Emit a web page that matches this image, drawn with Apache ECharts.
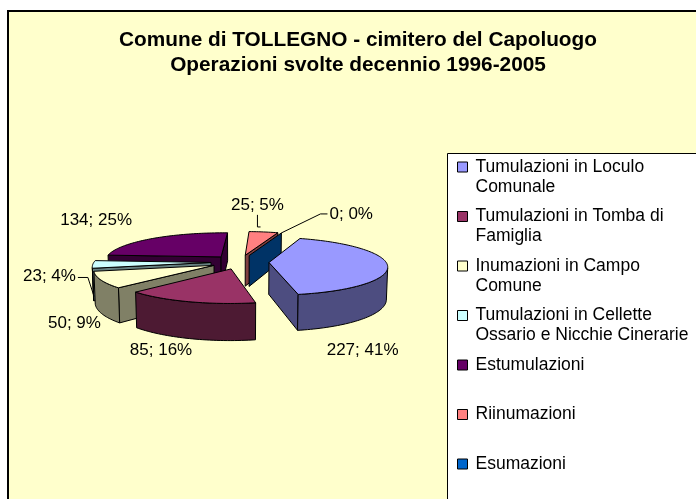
<!DOCTYPE html>
<html>
<head>
    <meta charset="UTF-8">
    <title>Comune di TOLLEGNO - cimitero del Capoluogo</title>
    <script src="https://cdn.jsdelivr.net/npm/echarts@6/dist/echarts.min.js"></script>
</head>
<body style="margin: 0; padding: 0;">
    <div id="container" style="width: 696px; height: 499px;"></div>
    <script>
        // dati
        var categories = ['Tumulazioni in Loculo Comunale', 'Tumulazioni in Tomba di Famiglia',
            'Inumazioni in Campo Comune', 'Tumulazioni in Cellette Ossario e Nicchie Cinerarie',
            'Estumulazioni', 'Riinumazioni', 'Esumazioni'];
        var legendText = ['Tumulazioni in Loculo\nComunale', 'Tumulazioni in Tomba di\nFamiglia',
            'Inumazioni in Campo\nComune', 'Tumulazioni in Cellette\nOssario e Nicchie Cinerarie',
            'Estumulazioni\n ', 'Riinumazioni\n ', 'Esumazioni\n '];
        var values = [227, 85, 50, 23, 134, 25, 0];
        var percents = [41, 16, 9, 4, 25, 5, 0];
        var colors = ['#9999FF', '#993366', '#FFFFCC', '#CCFFFF', '#660066', '#FF8080', '#0066CC'];

        // impostazioni della torta 3D (stile)
        var cx = 240, cy = 262, R = 117, E = 29, T = 33;
        var elev = 14 * Math.PI / 180, camD = 900, rot = 19;
        var labelNudge = [[-24, 70], [-28, 30], [-27, 26], [-44, -4], [-57, -33], [-6, -41], [70, -33]];
        var leaderTypes = [null, null, null, 'right', null, 'below', 'left'];

        var sinE = Math.sin(elev), cosE = Math.cos(elev);
        var cam = [0, camD * sinE, camD * cosE];
        var total = values.reduce(function (a, b) { return a + b; }, 0);
        var measureCtx = document.createElement('canvas').getContext('2d');
        measureCtx.font = '17px "Liberation Sans"';

        function rad(d) { return d * Math.PI / 180; }

        function proj(p) {
            var pv = p[1] * sinE + p[2] * cosE;
            var yc = p[1] * cosE - p[2] * sinE;
            var s = camD / (camD - pv);
            return [cx + p[0] * s, cy - yc * s];
        }

        function dist(p) {
            var dx = cam[0] - p[0], dy = cam[1] - p[1], dz = cam[2] - p[2];
            return Math.sqrt(dx * dx + dy * dy + dz * dz);
        }

        function faceVisible(p, n) {
            return (cam[0] - p[0]) * n[0] + (cam[1] - p[1]) * n[1] + (cam[2] - p[2]) * n[2] > 0;
        }

        function darken(hex) {
            var c = parseInt(hex.slice(1), 16);
            var r = (c >> 16) & 255, g = (c >> 8) & 255, b = c & 255;
            return 'rgb(' + Math.round(r / 2) + ',' + Math.round(g / 2) + ',' + Math.round(b / 2) + ')';
        }

        function sliceGeom(i) {
            var cum = 0;
            for (var k = 0; k < i; k++) cum += values[k];
            var a0 = rot + 360 * cum / total;
            var a1 = a0 + 360 * values[i] / total;
            var m = (a0 + a1) / 2;
            var ox = E * Math.sin(rad(m)), oz = -E * Math.cos(rad(m));
            return {
                a0: a0, a1: a1, m: m,
                pt: function (a, r, y) {
                    return [ox + r * Math.sin(rad(a)), y, oz - r * Math.cos(rad(a))];
                }
            };
        }

        function renderSlice(i) {
            return function (params, api) {
                var g = sliceGeom(i);
                var children = [];
                var dark = darken(colors[i]);
                var z = Math.round(3000 - dist(g.pt(g.m, R * 0.6, -T / 2)));
                var apexTop = g.pt(0, 0, 0), apexBot = g.pt(0, 0, -T);
                function face(points, fill) {
                    children.push({
                        type: 'polygon', z2: z,
                        shape: { points: points.map(proj) },
                        style: { fill: fill, stroke: '#000', lineWidth: 1, lineJoin: 'round' }
                    });
                }
                // pareti radiali
                [[g.a0, -1], [g.a1, 1]].forEach(function (w) {
                    var a = w[0], s = w[1];
                    var n = [s * Math.cos(rad(a)), 0, s * Math.sin(rad(a))];
                    if (faceVisible(g.pt(a, R / 2, -T / 2), n)) {
                        face([apexTop, g.pt(a, R, 0), g.pt(a, R, -T), apexBot], dark);
                    }
                });
                if (g.a1 > g.a0) {
                    // parete esterna
                    var steps = Math.max(2, Math.ceil((g.a1 - g.a0) / 1.5));
                    var run = [];
                    var flush = function () {
                        if (run.length > 1) {
                            var pts = run.map(function (a) { return g.pt(a, R, 0); });
                            pts = pts.concat(run.slice().reverse().map(function (a) { return g.pt(a, R, -T); }));
                            face(pts, dark);
                        }
                        run = [];
                    };
                    var arc = [];
                    for (var k = 0; k <= steps; k++) {
                        var a = g.a0 + (g.a1 - g.a0) * k / steps;
                        arc.push(g.pt(a, R, 0));
                        var n = [Math.sin(rad(a)), 0, -Math.cos(rad(a))];
                        if (faceVisible(g.pt(a, R, -T / 2), n)) run.push(a); else flush();
                    }
                    flush();
                    // faccia superiore
                    face([apexTop].concat(arc), colors[i]);
                }
                // etichetta
                var text = values[i] + '; ' + percents[i] + '%';
                var anchor = proj(g.pt(g.m, R, -T / 2));
                var lx = anchor[0] + labelNudge[i][0], ly = anchor[1] + labelNudge[i][1];
                var hw = measureCtx.measureText(text).width / 2;
                children.push({
                    type: 'text', z2: 5000, x: lx, y: ly,
                    style: {
                        text: text, fill: '#000', fontSize: 17, fontFamily: 'Liberation Sans',
                        align: 'center', verticalAlign: 'middle'
                    }
                });
                var lead = leaderTypes[i], pts = null;
                if (lead === 'right') {
                    var t = proj(g.pt(g.m, R, -T));
                    pts = [[lx + hw + 2, ly + 1], [lx + hw + 12, ly + 1], t];
                } else if (lead === 'left') {
                    var t2 = proj(g.pt(g.m, R, 0));
                    pts = [[lx - hw - 2, ly], [lx - hw - 9, ly], t2];
                } else if (lead === 'below') {
                    var t3 = proj(g.pt(g.m, R, 0));
                    pts = [[lx, ly + 10], [lx, t3[1] - 5], [t3[0] - 3, t3[1] - 5]];
                }
                if (pts) {
                    children.push({
                        type: 'polyline', z2: 5000, shape: { points: pts },
                        style: { stroke: '#000', lineWidth: 1, fill: null }
                    });
                }
                return { type: 'group', children: children };
            };
        }

        var chart = echarts.init(document.getElementById('container'), null, { renderer: 'canvas' });

        var series = categories.map(function (name, i) {
            return {
                type: 'custom',
                name: name,
                coordinateSystem: 'none',
                itemStyle: { color: colors[i] },
                renderItem: renderSlice(i),
                data: [{ value: values[i] }],
                animation: false
            };
        });

        var option = {
            backgroundColor: '#ffffff',
            animation: false,
            title: {
                text: 'Comune di TOLLEGNO - cimitero del Capoluogo\nOperazioni svolte decennio 1996-2005',
                left: 358,
                top: 28,
                padding: 0,
                textAlign: 'center',
                textStyle: {
                    fontSize: 20.8, fontWeight: 'bold', fontFamily: 'Liberation Sans',
                    color: '#000', lineHeight: 25
                }
            },
            graphic: [{
                type: 'rect', z: -10,
                shape: { x: 8, y: 11, width: 720, height: 520 },
                style: { fill: '#FFFFCC', stroke: '#000', lineWidth: 2 }
            }, {
                type: 'rect', z: -5,
                shape: { x: 447.5, y: 153.5, width: 300, height: 400 },
                style: { fill: '#ffffff', stroke: '#000', lineWidth: 1 }
            }],
            legend: {
                orient: 'vertical',
                left: 457,
                top: 157,
                padding: 0,
                itemWidth: 10,
                itemHeight: 30,
                itemGap: 9.5,
                // quadratino in alto, spazio vuoto sotto: allinea l'icona alla prima riga
                icon: 'path://M0,0L10,0L10,10L0,10ZM0,30',
                selectedMode: false,
                itemStyle: { borderColor: '#000', borderWidth: 1 },
                textStyle: {
                    fontSize: 17.5, fontFamily: 'Liberation Sans', color: '#000',
                    lineHeight: 20, padding: [0, 0, 0, 3]
                },
                data: categories,
                formatter: function (name) {
                    return legendText[categories.indexOf(name)];
                }
            },
            series: series
        };
        chart.setOption(option);
    </script>
</body>
</html>
